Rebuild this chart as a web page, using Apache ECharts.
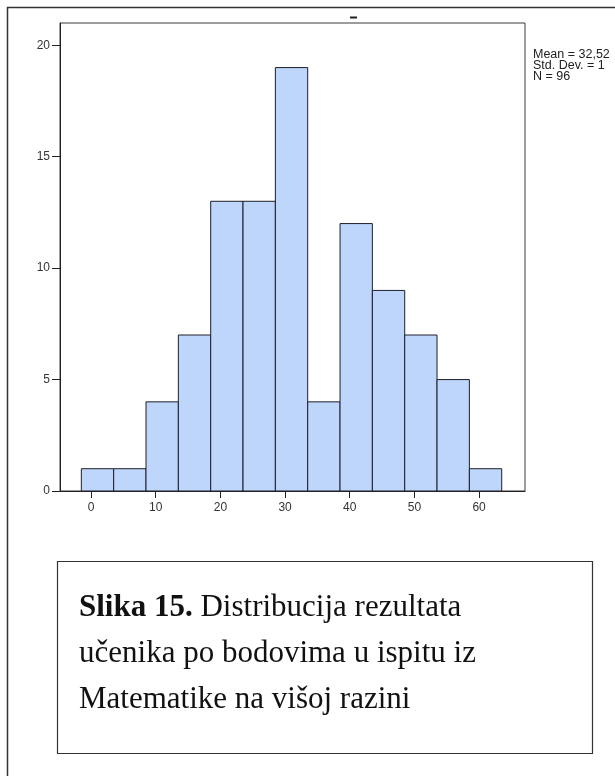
<!DOCTYPE html>
<html>
<head>
    <meta charset="utf-8">
    <title>Slika 15</title>
    <script src="https://cdn.jsdelivr.net/npm/echarts@6/dist/echarts.min.js"></script>
</head>
<style>
    html, body{
        margin: 0;
        padding: 0;
        background-color: #ffffff;
    }
    #main{
        width: 615px;
        height: 776px;
    }
</style>
<body>
<div id="main"></div>
<script>
    // histogram bins (width 5), counts
    var binStarts = [-1.5, 3.5, 8.5, 13.5, 18.5, 23.5, 28.5, 33.5, 38.5, 43.5, 48.5, 53.5, 58.5];
    var binWidth = 5;
    var counts = [1, 1, 4, 7, 13, 13, 19, 4, 12, 9, 7, 5, 1];
    var xTicks = [0, 10, 20, 30, 40, 50, 60];
    var yTicks = [0, 5, 10, 15, 20];
    var statLines = ['Mean = 32,52', 'Std. Dev. = 1', 'N = 96'];
    var captionBold = 'Slika 15.';
    var captionLines = [' Distribucija rezultata', 'učenika po bodovima u ispitu iz', 'Matematike na višoj razini'];

    var histData = [];
    for (var i = 0; i < counts.length; i++) {
        histData.push([binStarts[i], binStarts[i] + binWidth, counts[i]]);
    }

    var myChart = echarts.init(document.getElementById('main'));
    var option = {
        backgroundColor: '#ffffff',
        animation: false,
        textStyle: {fontFamily: 'Liberation Sans, Arial, sans-serif'},
        grid: {left: 60, top: 23, right: 90, bottom: 285, show: true,
            borderColor: '#3a3a3a', borderWidth: 1, backgroundColor: 'transparent'},
        xAxis: {
            type: 'value', min: -4.8, max: 67.1,
            axisLine: {show: true, onZero: false, lineStyle: {color: '#222', width: 1}},
            axisTick: {show: true, length: 7, customValues: xTicks, lineStyle: {color: '#222'}},
            axisLabel: {customValues: xTicks, color: '#333', fontSize: 12, margin: 11},
            splitLine: {show: false}
        },
        yAxis: {
            type: 'value', min: 0, max: 21,
            axisLine: {show: true, onZero: false, lineStyle: {color: '#222', width: 1}},
            axisTick: {show: true, length: 8, customValues: yTicks, lineStyle: {color: '#222'}},
            axisLabel: {customValues: yTicks, color: '#333', fontSize: 12, margin: 10},
            splitLine: {show: false}
        },
        series: [{
            type: 'custom',
            data: histData,
            encode: {x: [0, 1], y: 2},
            renderItem: function (params, api) {
                var p0 = api.coord([api.value(0), api.value(2)]);
                var p1 = api.coord([api.value(1), 0]);
                return {
                    type: 'rect',
                    shape: {x: p0[0], y: p0[1], width: p1[0] - p0[0], height: p1[1] - p0[1]},
                    style: {fill: '#bdd6fa', stroke: '#1e1e2a', lineWidth: 1}
                };
            }
        }],
        graphic: [
            // page frame, runs off the right and bottom edges
            {type: 'polyline', silent: true, z: 10,
                shape: {points: [[7.5, 780], [7.5, 7.5], [620, 7.5]]},
                style: {stroke: '#333', lineWidth: 1.5, fill: null}},
            // leftover of the cut title
            {type: 'line', silent: true, z: 10,
                shape: {x1: 350, y1: 17.5, x2: 357, y2: 17.5},
                style: {stroke: '#222', lineWidth: 2}},
            {type: 'text', silent: true, z: 10, left: 533, top: 48,
                style: {text: statLines.join('\n'), fill: '#222', font: '12.5px Liberation Sans, Arial, sans-serif', lineHeight: 11}},
            // caption box
            {type: 'rect', silent: true, z: 10,
                shape: {x: 57.5, y: 561.5, width: 535, height: 192},
                style: {fill: '#fff', stroke: '#333', lineWidth: 1.2}},
            {type: 'text', silent: true, z: 11, left: 79, top: 585,
                style: {
                    text: '{b|' + captionBold + '}' + captionLines[0] + '\n' + captionLines[1] + '\n' + captionLines[2],
                    fill: '#111', font: '31px Liberation Serif, Times New Roman, serif', lineHeight: 46,
                    rich: {b: {fontWeight: 'bold', fontSize: 31, fontFamily: 'Liberation Serif', fill: '#111', lineHeight: 46}}
                }}
        ]
    };
    myChart.setOption(option);
</script>
</body>
</html>
